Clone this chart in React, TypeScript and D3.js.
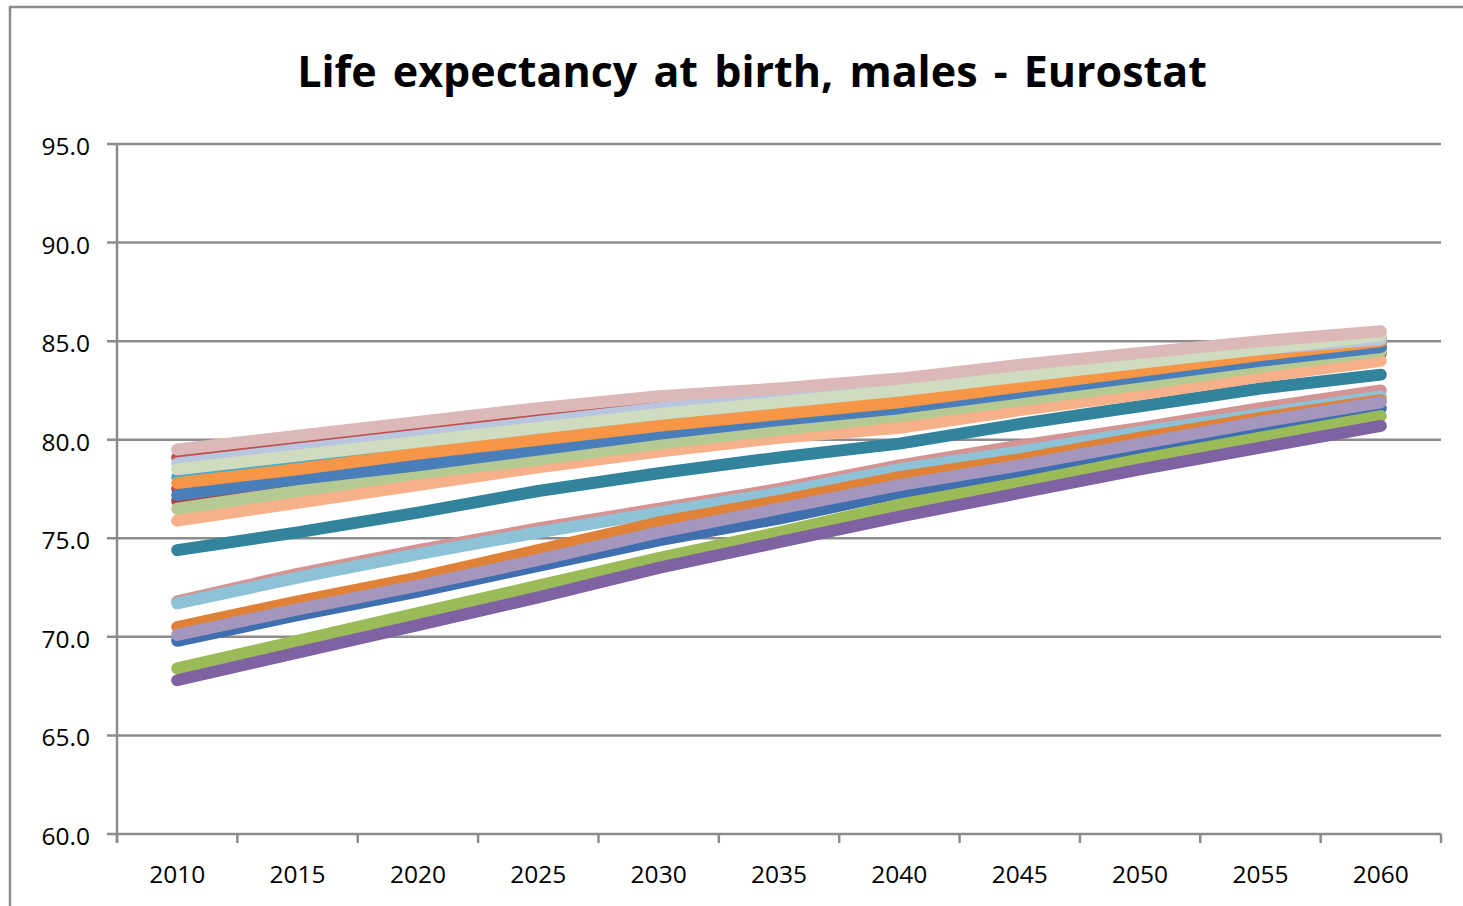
import { useEffect, useRef } from 'react';
import * as d3 from 'd3';

// category labels along the bottom
const years = ['2010', '2015', '2020', '2025', '2030', '2035', '2040', '2045', '2050', '2055', '2060'];
const yTicks = [60, 65, 70, 75, 80, 85, 90, 95];

// series, in drawing order (later ones lie on top)
const redA = [79.1, 79.8, 80.5, 81.2, 81.9, 82.4, 82.9, 83.5, 84.1, 84.7, 85.2];
const redB = [77.5, 78.2, 78.9, 79.7, 80.4, 81.0, 81.6, 82.4, 83.1, 83.9, 84.6];
const redC = [76.9, 77.6, 78.4, 79.2, 79.9, 80.6, 81.2, 82.0, 82.8, 83.6, 84.4];
const aqua = [78.1, 78.8, 79.6, 80.3, 81.0, 81.6, 82.2, 82.9, 83.6, 84.3, 84.9];
const teal = [74.4, 75.3, 76.3, 77.4, 78.3, 79.1, 79.8, 80.8, 81.7, 82.6, 83.3];
const lightOrange = [75.9, 76.8, 77.7, 78.6, 79.4, 80.1, 80.6, 81.5, 82.3, 83.2, 84.0];
const sage = [76.5, 77.4, 78.3, 79.0, 79.8, 80.5, 81.2, 82.0, 82.8, 83.7, 84.5];
const blue = [77.2, 78.0, 78.7, 79.5, 80.3, 81.0, 81.6, 82.4, 83.2, 84.0, 84.7];
const orange = [77.8, 78.5, 79.3, 80.0, 80.7, 81.3, 81.9, 82.7, 83.5, 84.3, 85.0];
const lavender = [78.8, 79.5, 80.2, 80.9, 81.6, 82.2, 82.8, 83.4, 84.0, 84.6, 85.1];
const greyGreen = [78.5, 79.2, 79.9, 80.6, 81.3, 81.9, 82.5, 83.2, 83.9, 84.6, 85.3];
const rose = [79.5, 80.2, 80.9, 81.6, 82.2, 82.6, 83.1, 83.8, 84.4, 85.0, 85.5];
const dullRed = [71.8, 73.2, 74.4, 75.5, 76.5, 77.5, 78.7, 79.7, 80.6, 81.6, 82.5];
const skyBlue = [71.7, 73.0, 74.2, 75.3, 76.3, 77.3, 78.5, 79.4, 80.4, 81.3, 82.2];
const darkOrange = [70.5, 71.8, 73.0, 74.4, 75.8, 76.9, 78.1, 79.0, 80.1, 81.1, 82.0];
const steelBlue = [69.8, 71.1, 72.3, 73.6, 74.9, 76.0, 77.3, 78.3, 79.4, 80.5, 81.6];
const lilac = [70.1, 71.4, 72.6, 73.9, 75.3, 76.5, 77.7, 78.7, 79.8, 80.9, 81.9];
const green = [68.4, 69.8, 71.2, 72.6, 74.0, 75.3, 76.7, 77.8, 79.0, 80.1, 81.2];
const purple = [67.8, 69.2, 70.6, 72.0, 73.5, 74.8, 76.1, 77.3, 78.5, 79.6, 80.7];

const seriesList = [
  { values: redA, color: '#C0504D' },
  { values: redB, color: '#B84B48' },
  { values: redC, color: '#A94643' },
  { values: aqua, color: '#4BACC6' },
  { values: teal, color: '#31849B' },
  { values: lightOrange, color: '#F6B18A' },
  { values: sage, color: '#B5CA92' },
  { values: blue, color: '#4A7EBB' },
  { values: orange, color: '#F79646' },
  { values: lavender, color: '#B9C6E0' },
  { values: greyGreen, color: '#D0DCBF' },
  { values: rose, color: '#DDB8B8' },
  { values: dullRed, color: '#D59494' },
  { values: skyBlue, color: '#8EC2D6' },
  { values: darkOrange, color: '#DF8237' },
  { values: steelBlue, color: '#3F6FAE' },
  { values: lilac, color: '#A596BE' },
  { values: green, color: '#9BBB59' },
  { values: purple, color: '#7F62A1' },
];

const W = 1463;
const H = 906;
const gridColor = '#8C8C8C';

const App = () => {
  const ref = useRef<SVGSVGElement>(null);

  useEffect(() => {
    const svg = d3.select(ref.current);
    svg.selectAll('*').remove();

    const x = d3.scaleBand().domain(years).range([117, 1441]);
    const y = d3.scaleLinear().domain([60, 95]).range([834, 144]);

    // chart area border
    svg.append('rect')
      .attr('x', 10).attr('y', 7)
      .attr('width', W + 20).attr('height', H + 20)
      .attr('fill', 'white')
      .attr('stroke', gridColor)
      .attr('stroke-width', 2.5);

    svg.append('text')
      .attr('x', 752).attr('y', 87)
      .attr('text-anchor', 'middle')
      .attr('font-family', '"Open Sans", sans-serif')
      .attr('font-weight', 'bold')
      .attr('font-size', 43)
      .attr('word-spacing', 5)
      .text('Life expectancy at birth, males - Eurostat');

    // horizontal gridlines with small ticks to the left
    svg.append('g').selectAll('line')
      .data(yTicks)
      .join('line')
      .attr('x1', 107).attr('x2', 1441)
      .attr('y1', d => y(d)).attr('y2', d => y(d))
      .attr('stroke', gridColor)
      .attr('stroke-width', 2.5);

    svg.append('g').selectAll('text')
      .data(yTicks)
      .join('text')
      .attr('x', 90)
      .attr('y', d => y(d) + 11)
      .attr('text-anchor', 'end')
      .attr('font-family', '"Open Sans", sans-serif')
      .attr('font-size', 24.5)
      .text(d => d.toFixed(1));

    // y axis line
    svg.append('line')
      .attr('x1', 117).attr('x2', 117)
      .attr('y1', 144).attr('y2', 843)
      .attr('stroke', gridColor)
      .attr('stroke-width', 2.5);

    // x tick marks at band edges
    const edges = years.map(d => x(d)!).concat([x.range()[1]]);
    svg.append('g').selectAll('line')
      .data(edges)
      .join('line')
      .attr('x1', d => d).attr('x2', d => d)
      .attr('y1', 834).attr('y2', 843)
      .attr('stroke', gridColor)
      .attr('stroke-width', 2.5);

    svg.append('g').selectAll('text')
      .data(years)
      .join('text')
      .attr('x', d => x(d)! + x.bandwidth() / 2)
      .attr('y', 883)
      .attr('text-anchor', 'middle')
      .attr('font-family', '"Open Sans", sans-serif')
      .attr('font-size', 24.5)
      .text(d => d);

    const line = d3.line<number>()
      .x((_, i) => x(years[i])! + x.bandwidth() / 2)
      .y(d => y(d));

    svg.append('g').selectAll('path')
      .data(seriesList)
      .join('path')
      .attr('d', s => line(s.values))
      .attr('fill', 'none')
      .attr('stroke', s => s.color)
      .attr('stroke-width', 12)
      .attr('stroke-linecap', 'round')
      .attr('stroke-linejoin', 'round');
  }, []);

  return (
    <svg
      ref={ref}
      width={W}
      height={H}
      style={{ position: 'absolute', left: 0, top: 0, background: 'white' }}
    />
  );
};

export default App;
